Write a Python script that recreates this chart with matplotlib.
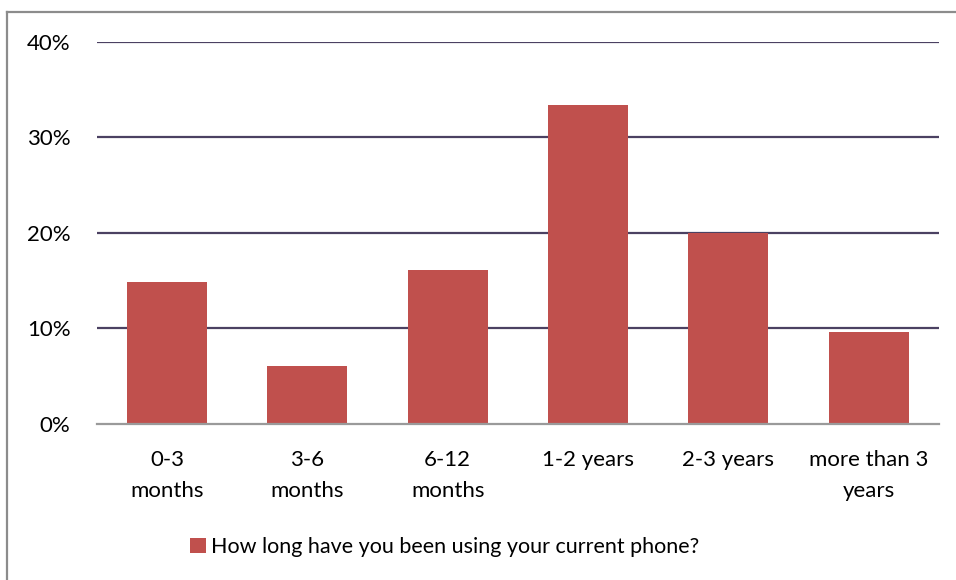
import matplotlib
matplotlib.use("Agg")
import matplotlib.pyplot as plt
from matplotlib.lines import Line2D
from matplotlib.ticker import FuncFormatter

plt.rcParams['font.family'] = ['Lato', 'DejaVu Sans']

categories = ["0-3\nmonths", "3-6\nmonths", "6-12\nmonths", "1-2 years",
              "2-3 years", "more than 3\nyears"]
shares = [14.8, 6.0, 16.1, 33.4, 20.0, 9.6]
yticks = [0, 10, 20, 30, 40]
series_name = "How long have you been using your current phone?"

W, H = 956, 580
fig = plt.figure(figsize=(W / 100, H / 100), dpi=100)
fig.patch.set_facecolor("white")

# plot area in pixel coordinates
left, right, top, bottom = 97, 938.7, 41.5, 423.7
ax = fig.add_axes([left / W, 1 - bottom / H, (right - left) / W, (bottom - top) / H])

bar_color = "#C0504D"
grid_color = "#4B4162"
fs = 16
x = range(len(categories))
bars = ax.bar(x, shares, width=0.57, color=bar_color, edgecolor="none",
              zorder=3, label=series_name)

ax.set_xlim(-0.5, len(categories) - 0.5)
ax.set_ylim(0, 40)
ax.set_yticks(yticks)
ax.yaxis.set_major_formatter(FuncFormatter(lambda v, p: f"{v:.0f}%"))
ax.set_xticks(list(x))
ax.set_xticklabels(categories, fontsize=fs, linespacing=1.68)

for v in yticks[1:]:
    ax.axhline(v, color=grid_color, lw=1.6, zorder=1)

for s in ["top", "right", "left"]:
    ax.spines[s].set_visible(False)
ax.spines["bottom"].set_color("#9A9A9A")
ax.spines["bottom"].set_linewidth(1.6)
ax.spines["bottom"].set_zorder(4)

ax.tick_params(axis="y", length=0, pad=19, labelsize=fs, colors="black")
ax.tick_params(axis="x", length=0, pad=19, labelsize=fs, colors="black")

# outer chart frame (top and left edges visible)
frame_kw = dict(color="#8C8C8C", lw=1.6, transform=None)
fig.add_artist(Line2D([7.3, W], [H - 11.7, H - 11.7], **frame_kw))
fig.add_artist(Line2D([7.3, 7.3], [0, H - 11.7], **frame_kw))

fig.legend(handles=[bars], loc="center",
           bbox_to_anchor=(445 / W, 1 - 547 / H),
           frameon=False, fontsize=15.5, handlelength=0.72, handleheight=0.72,
           handletextpad=0.25, borderpad=0)

fig.savefig("out.png", dpi=100, facecolor="white")
